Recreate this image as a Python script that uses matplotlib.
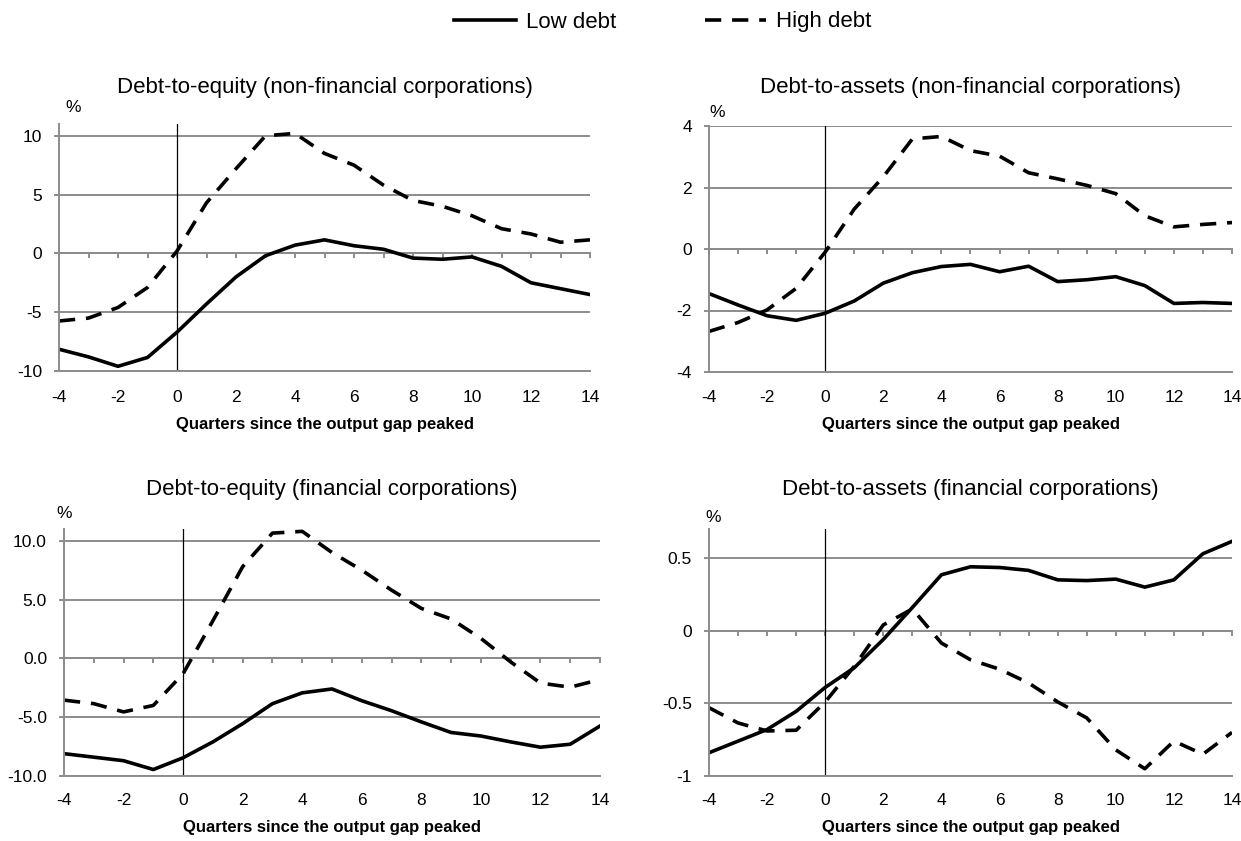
import matplotlib
matplotlib.use("Agg")
import matplotlib.pyplot as plt
from matplotlib.lines import Line2D
from matplotlib.ticker import FuncFormatter

W, H = 1241, 841
DPI = 100

plt.rcParams['font.family'] = ['Liberation Sans Narrow', 'Liberation Sans', 'DejaVu Sans']
plt.rcParams['axes.unicode_minus'] = False

quarters = list(range(-4, 15))

# debt-to-equity, non-financial corporations
dte_nfc_low = [-8.15, -8.8, -9.6, -8.85, -6.7, -4.3, -2.0, -0.2, 0.7, 1.15,
               0.65, 0.35, -0.4, -0.5, -0.3, -1.1, -2.5, -3.0, -3.5]
dte_nfc_high = [-5.75, -5.5, -4.6, -2.9, 0.2, 4.3, 7.2, 10.0, 10.2, 8.5,
                7.5, 5.8, 4.5, 4.0, 3.2, 2.1, 1.65, 0.95, 1.15]

# debt-to-assets, non-financial corporations
dta_nfc_low = [-1.45, -1.82, -2.17, -2.32, -2.09, -1.69, -1.11, -0.77, -0.57, -0.5,
               -0.74, -0.56, -1.06, -1.0, -0.9, -1.19, -1.77, -1.74, -1.77]
dta_nfc_high = [-2.68, -2.39, -1.98, -1.28, -0.1, 1.3, 2.35, 3.58, 3.66, 3.2,
                3.02, 2.48, 2.28, 2.07, 1.8, 1.08, 0.72, 0.8, 0.86]

# debt-to-equity, financial corporations
dte_fc_low = [-8.1, -8.4, -8.7, -9.45, -8.45, -7.1, -5.55, -3.85, -2.93, -2.6,
              -3.6, -4.45, -5.4, -6.3, -6.6, -7.1, -7.55, -7.3, -5.75]
dte_fc_high = [-3.55, -3.85, -4.55, -4.0, -1.3, 3.2, 7.8, 10.65, 10.8, 9.0,
               7.5, 5.8, 4.25, 3.35, 1.7, -0.3, -2.1, -2.45, -1.8]

# debt-to-assets, financial corporations
dta_fc_low = [-0.84, -0.76, -0.68, -0.555, -0.39, -0.255, -0.06, 0.16, 0.385, 0.44,
              0.435, 0.415, 0.35, 0.345, 0.355, 0.3, 0.35, 0.53, 0.615]
dta_fc_high = [-0.53, -0.635, -0.69, -0.685, -0.49, -0.245, 0.04, 0.15, -0.085, -0.2,
               -0.265, -0.36, -0.49, -0.6, -0.82, -0.95, -0.76, -0.85, -0.7]

panels = [
    dict(title="Debt-to-equity (non-financial corporations)", low=dte_nfc_low, high=dte_nfc_high,
         ylim=(-10, 11), yticks=[-10, -5, 0, 5, 10], fmt="{:.0f}",
         box=(59, 590, 124, 371), pct=(73, 108), tpad=31, xpad=19),
    dict(title="Debt-to-assets (non-financial corporations)", low=dta_nfc_low, high=dta_nfc_high,
         ylim=(-4, 4), yticks=[-4, -2, 0, 2, 4], fmt="{:.0f}",
         box=(709, 1232, 126, 372), pct=(717, 113), tpad=33, xpad=18),
    dict(title="Debt-to-equity (financial corporations)", low=dte_fc_low, high=dte_fc_high,
         ylim=(-10, 11), yticks=[-10, -5, 0, 5, 10], fmt="{:.1f}",
         box=(64, 600, 529, 776), pct=(64, 513), tpad=34, xpad=17),
    dict(title="Debt-to-assets (financial corporations)", low=dta_fc_low, high=dta_fc_high,
         ylim=(-1, 0.7), yticks=[-1, -0.5, 0, 0.5], fmt="{:g}",
         box=(709, 1232, 529, 776), pct=(713, 517), tpad=34, xpad=17),
]

grid_col = '#8c8c8c'
lw_data = 2.6
dash = (0, (4.5, 3.0))
px = 72 / DPI  # points per pixel

fig = plt.figure(figsize=(W / DPI, H / DPI), dpi=DPI)

for p in panels:
    l, r, t, b = p['box']
    ax = fig.add_axes([l / W, 1 - b / H, (r - l) / W, (b - t) / H])

    ax.plot(quarters, p['low'], color='black', lw=lw_data, solid_joinstyle='round')
    ax.plot(quarters, p['high'], color='black', lw=lw_data, linestyle=dash, dash_capstyle='butt')
    ax.axvline(0, color='black', lw=0.9, zorder=1)

    ax.set_xlim(-4, 14)
    ax.set_ylim(*p['ylim'])
    ax.set_yticks(p['yticks'])
    ax.yaxis.set_major_formatter(FuncFormatter(lambda v, pos, f=p['fmt']: f.format(v)))
    ax.set_xticks(range(-4, 15, 2))
    ax.grid(axis='y', color=grid_col, lw=1.4)
    ax.set_axisbelow(True)

    for s in ['top', 'right']:
        ax.spines[s].set_visible(False)
    for s in ['left', 'bottom']:
        ax.spines[s].set_color(grid_col)
        ax.spines[s].set_linewidth(1.4)

    ax.tick_params(axis='x', length=0, pad=p['xpad'] * px, labelsize=12.5)
    ax.tick_params(axis='y', length=5 * px, width=1.4, color=grid_col, pad=12 * px, labelsize=12.5)

    # zero line carrying the quarter tick marks
    y0, y1 = p['ylim']
    sec = ax.secondary_xaxis((0 - y0) / (y1 - y0))
    sec.set_alignment('bottom')
    sec.set_xticks(range(-4, 15))
    sec.tick_params(axis='x', direction='out', length=5 * px, width=1.4, color=grid_col,
                    labelbottom=False)
    sec.spines['bottom'].set_color(grid_col)
    sec.spines['bottom'].set_linewidth(1.4)

    ax.set_xlabel("Quarters since the output gap peaked", fontsize=12, fontweight='bold',
                  labelpad=12 * px)
    ax.set_title(p['title'], fontsize=16, family=['Liberation Sans', 'DejaVu Sans'],
                 pad=p['tpad'] * px)
    fig.text(p['pct'][0] / W, 1 - p['pct'][1] / H, "%", fontsize=12.5,
             ha='center', va='center')

handles = [Line2D([], [], color='black', lw=lw_data),
           Line2D([], [], color='black', lw=lw_data, linestyle=dash, dash_capstyle='butt')]
fig.legend(handles, ["Low debt", "High debt"], loc='center', bbox_to_anchor=(663 / W, 1 - 22 / H),
           ncol=2, frameon=False, handlelength=2.77, handletextpad=0.45, columnspacing=4.0,
           prop={'family': ['Liberation Sans', 'DejaVu Sans'], 'size': 16})

fig.savefig("out.png", dpi=DPI)
